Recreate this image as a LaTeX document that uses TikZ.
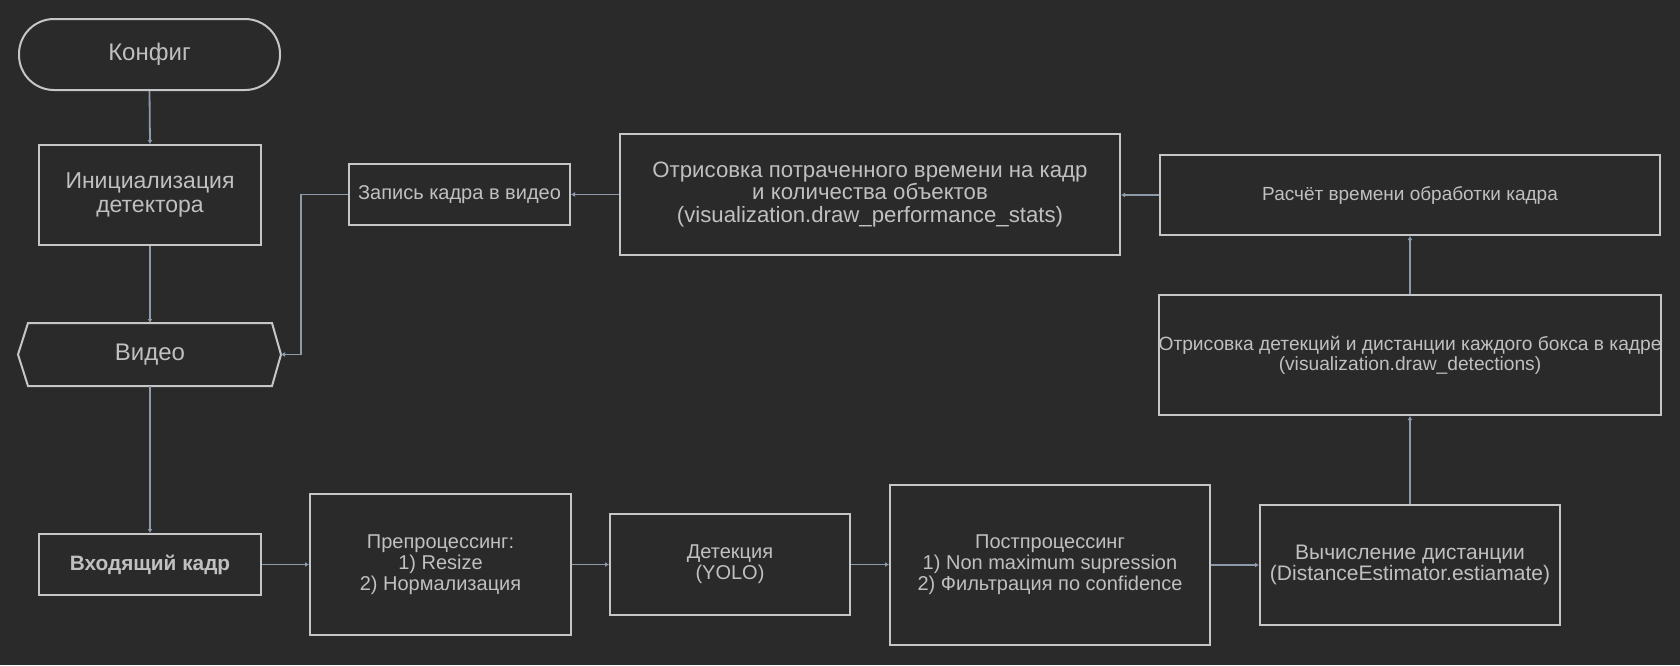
\documentclass[tikz,border=0pt]{standalone}
\usepackage{fontspec}
\setmainfont{Liberation Sans}
\usetikzlibrary{arrows.meta,calc}
\definecolor{bgc}{HTML}{2A2A2A}
\definecolor{boxc}{HTML}{C6C6C6}
\definecolor{linec}{HTML}{8C9AAA}
\definecolor{txtc}{HTML}{C0C0C0}
\tikzset{
  box/.style={draw=boxc, line width=2pt, text=txtc, align=center, inner sep=0pt,
    font=\fontsize{20}{21}\selectfont},
  bigbox/.style={box, font=\fontsize{24}{25}\selectfont},
  conn/.style={draw=linec, line width=1.8pt, -{Latex[length=4pt,width=5pt]}}
}
\begin{document}
\begin{tikzpicture}[x=1pt,y=-1pt]
\fill[bgc] (0,0) rectangle (1680,665);
\useasboundingbox (0,0) rectangle (1680,665);

\node[bigbox, rounded corners=35pt, minimum width=261pt, minimum height=71pt] (konf) at (149.5,54.5) {Конфиг};
\node[bigbox, font=\fontsize{23}{24.5}\selectfont, minimum width=222pt, minimum height=100pt] (init) at (150,195) {Инициализация\\детектора};
\node[bigbox, draw=none, minimum width=242pt, minimum height=61pt] (video) at (150,354.5) {Видео};
\coordinate (vtip) at ([xshift=9pt]video.east);
\coordinate (vtipl) at ([xshift=-10pt]video.west);
\draw[boxc, line width=2pt, line join=miter] (video.north west) -- (video.north east) -- (vtip) -- (video.south east) -- (video.south west) -- (vtipl) -- cycle;

\node[box, font=\fontsize{20.8}{22}\selectfont\bfseries, minimum width=222pt, minimum height=61pt] (vhod) at (150,564.5) {Входящий кадр};
\node[box, minimum width=261pt, minimum height=141pt] (prep) at (440.5,564.5) {Препроцессинг:\\1) Resize\\2) Нормализация};
\node[box, minimum width=240pt, minimum height=101pt] (det) at (730,564.5) {Детекция\\(YOLO)};
\node[box, minimum width=320pt, minimum height=160pt] (post) at (1050,565) {Постпроцессинг\\1) Non maximum supression\\2) Фильтрация по confidence};
\node[box, font=\fontsize{21}{21.5}\selectfont, minimum width=300pt, minimum height=120pt] (dist) at (1410,565) {Вычисление дистанции\\(DistanceEstimator.estiamate)};
\node[box, font=\fontsize{19.2}{20}\selectfont, minimum width=500pt, minimum height=120pt] (detdraw) at (1410,355) {Отрисовка детекций и дистанции каждого бокса в кадре\\(visualization.draw\_detections)};
\node[box, font=\fontsize{19}{21}\selectfont, minimum width=500pt, minimum height=80pt] (calc) at (1410,195) {Расчёт времени обработки кадра};
\node[box, font=\fontsize{22.2}{22.5}\selectfont, minimum width=500pt, minimum height=121pt] (perf) at (870,194.5) {Отрисовка потраченного времени на кадр\\и количества объектов\\(visualization.draw\_performance\_stats)};
\node[box, minimum width=221pt, minimum height=61pt] (zap) at (459.5,194.5) {Запись кадра в видео};

\draw[conn] (konf.south) -- (init.north);
\draw[conn] (init.south) -- (video.north);
\draw[conn] (video.south) -- (vhod.north);
\draw[conn] (vhod.east) -- (prep.west);
\draw[conn] (prep.east) -- (det.west);
\draw[conn] (det.east) -- (det.east -| post.west);
\draw[conn] (post.east) -- (post.east -| dist.west);
\draw[conn] (dist.north) -- (detdraw.south);
\draw[conn] (detdraw.north) -- (calc.south);
\draw[conn] (calc.west) -- (calc.west -| perf.east);
\draw[conn] (perf.west) -- (perf.west -| zap.east);
\draw[conn] (zap.west) -| ([xshift=20pt]vtip) -- (vtip);
\end{tikzpicture}
\end{document}
